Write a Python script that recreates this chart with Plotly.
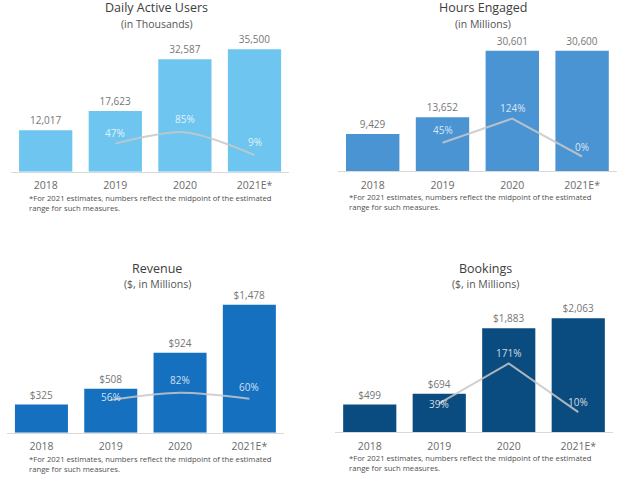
import plotly.graph_objects as go

# ---------------- data ----------------
years = ["2018", "2019", "2020", "2021E*"]

dau = [12017, 17623, 32587, 35500]
dau_growth = [None, 47, 85, 9]

hours = [9429, 13652, 30601, 30600]
hours_growth = [None, 45, 124, 0]

revenue = [325, 508, 924, 1478]
revenue_growth = [None, 56, 82, 60]

bookings = [499, 694, 1883, 2063]
bookings_growth = [None, 39, 171, 10]

titles = ["Daily Active Users", "Hours Engaged", "Revenue", "Bookings"]
subtitles = ["(in Thousands)", "(in Millions)", "($, in Millions)", "($, in Millions)"]
value_formats = ["%{y:,}", "%{y:,}", "$%{y:,}", "$%{y:,}"]
footnote = ("*For 2021 estimates, numbers reflect the midpoint of the estimated"
            "<br>range for such measures.")

# ---------------- layout / style (pixel geometry) ----------------
W, H = 640, 477
FONT = "Open Sans"
panels = [
    dict(vals=dau, growth=dau_growth, color="#6EC6F0", x0=10.9, x1=289.3,
         base=171.7, top=49.3, z=157.7, s=0.30, shape="spline",
         tx=156.5, ty=8.0, sy=24.0, fx=27, fy=202.5, shifts=[11, 13, 13]),
    dict(vals=hours, growth=hours_growth, color="#4A94D4", x0=337.8, x1=617,
         base=171.0, top=50.7, z=156.5, s=0.306, shape="linear",
         tx=483, ty=8.0, sy=24.0, fx=347, fy=202.0, shifts=[13, 11, 10]),
    dict(vals=revenue, growth=revenue_growth, color="#1670C0", x0=6.8, x1=284,
         base=432.7, top=304.7, z=415, s=0.27, shape="spline",
         tx=157, ty=268.8, sy=284.2, fx=27, fy=463.5, shifts=[3, 13, 12]),
    dict(vals=bookings, growth=bookings_growth, color="#0B4C80", x0=335, x1=613,
         base=432.0, top=318.3, z=415.2, s=0.303, shape="linear",
         tx=485, ty=268.8, sy=284.2, fx=347, fy=462.5, shifts=[-1, 10, 10]),
]
HSPAN = 140  # plot height in px for each panel

fig = go.Figure()
layout = dict(width=W, height=H, margin=dict(l=0, r=0, t=0, b=0),
              paper_bgcolor="white", plot_bgcolor="white", showlegend=False,
              bargap=0.235, font=dict(family=FONT))
annotations = []

for i, p in enumerate(panels, start=1):
    xa = "x" if i == 1 else f"x{i}"
    ya = "y" if i == 1 else f"y{i}"
    ya2 = f"y{i+4}"
    xkey = "xaxis" if i == 1 else f"xaxis{i}"
    ykey = "yaxis" if i == 1 else f"yaxis{i}"
    y2key = f"yaxis{i+4}"

    dom_bot = p["base"]
    dom_top = p["base"] - HSPAN
    ydom = [1 - dom_bot / H, 1 - dom_top / H]
    xdom = [p["x0"] / W, p["x1"] / W]

    vmax = max(p["vals"])
    yrange = [0, vmax * HSPAN / (p["base"] - p["top"])]
    g_lo = (p["z"] - dom_bot) / p["s"]
    g_hi = (p["z"] - dom_top) / p["s"]

    fig.add_trace(go.Bar(
        x=years, y=p["vals"], xaxis=xa, yaxis=ya,
        marker=dict(color=p["color"], line=dict(width=0)),
        texttemplate=value_formats[i - 1], textposition="outside",
        textfont=dict(size=10, color="#767676", family=FONT),
        cliponaxis=False, hoverinfo="skip"))

    fig.add_trace(go.Scatter(
        x=years, y=p["growth"], xaxis=xa, yaxis=ya2, mode="lines",
        line=dict(color="rgba(200,200,200,0.85)", width=2, shape=p["shape"],
                  smoothing=0.8),
        hoverinfo="skip", cliponaxis=False))

    layout[xkey] = dict(domain=xdom, anchor=ya, type="category",
                        range=[-0.5, 3.5], showgrid=False, zeroline=False,
                        showline=True, linecolor="#d9d9d9", linewidth=1,
                        ticks="outside", ticklen=4, tickcolor="rgba(0,0,0,0)",
                        tickfont=dict(size=10.5, color="#6a6a6a", family=FONT),
                        fixedrange=True)
    layout[ykey] = dict(domain=ydom, anchor=xa, range=yrange, visible=False,
                        fixedrange=True)
    layout[y2key] = dict(overlaying=ya, anchor=xa, range=[g_lo, g_hi],
                         visible=False, fixedrange=True)

    # growth % labels (x given as category index)
    for k, (g, sh) in enumerate(zip(p["growth"], [None] + p["shifts"])):
        if g is None:
            continue
        annotations.append(dict(
            x=k, y=g, xref=xa, yref=ya2, text=f"{g}%", showarrow=False,
            yshift=sh, yanchor="middle",
            font=dict(size=10, color="rgba(255,255,255,0.8)", family=FONT)))

    # titles
    annotations.append(dict(
        x=p["tx"] / W, y=1 - p["ty"] / H, xref="paper", yref="paper",
        text=titles[i - 1], showarrow=False, xanchor="center", yanchor="middle",
        font=dict(size=12.5, color="#3d3d3d", family=FONT)))
    annotations.append(dict(
        x=p["tx"] / W, y=1 - p["sy"] / H, xref="paper", yref="paper",
        text=subtitles[i - 1], showarrow=False, xanchor="center", yanchor="middle",
        font=dict(size=10.5, color="#555555", family=FONT)))
    # footnote
    annotations.append(dict(
        x=p["fx"] / W, y=1 - p["fy"] / H, xref="paper", yref="paper",
        text=footnote, showarrow=False, xanchor="left", yanchor="middle",
        align="left",
        font=dict(size=7.7, color="#505050", family=FONT)))

layout["annotations"] = annotations
fig.update_layout(**layout)
fig.write_html("out.html")
